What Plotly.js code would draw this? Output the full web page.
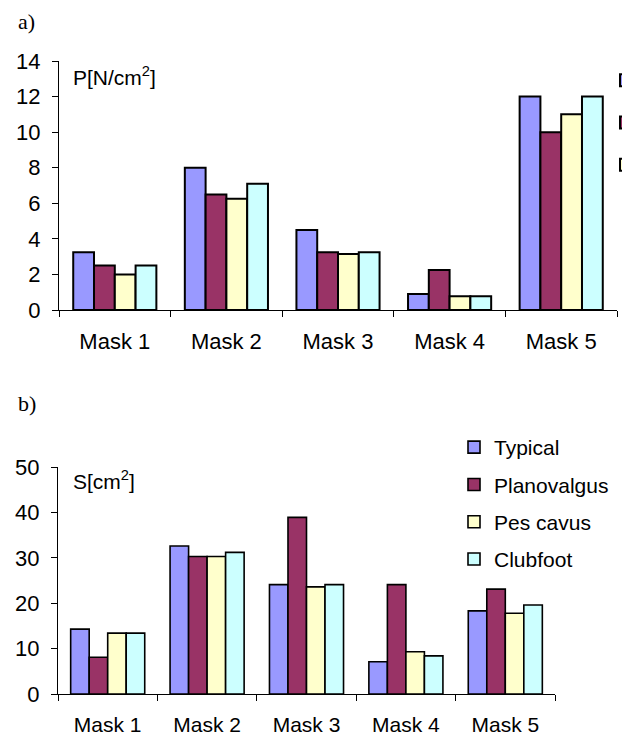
<!DOCTYPE html>
<html>
<head>
<meta charset="utf-8">
<script src="https://cdn.plot.ly/plotly-3.0.1.min.js"></script>
<style>html,body{margin:0;padding:0;background:#fff;}#chart{width:622px;height:736px;}</style>
</head>
<body>
<div id="chart"></div>
<script>
const categories = ["Mask 1", "Mask 2", "Mask 3", "Mask 4", "Mask 5"];
const seriesNames = ["Typical", "Planovalgus", "Pes cavus", "Clubfoot"];
const seriesColors = ["#9999FF", "#993366", "#FFFFCC", "#CCFFFF"];

// a) Pressure P [N/cm^2]
const pTypical     = [3.25, 8.0, 4.5, 0.9, 12.0];
const pPlanovalgus = [2.5, 6.5, 3.25, 2.25, 10.0];
const pPesCavus    = [2.0, 6.25, 3.15, 0.77, 11.0];
const pClubfoot    = [2.5, 7.1, 3.25, 0.77, 12.0];

// b) Area S [cm^2]
const sTypical     = [14.3, 32.6, 24.1, 7.1, 18.3];
const sPlanovalgus = [8.1, 30.3, 38.9, 24.1, 23.1];
const sPesCavus    = [13.4, 30.3, 23.6, 9.3, 17.8];
const sClubfoot    = [13.4, 31.2, 24.1, 8.4, 19.6];

const pSeries = [pTypical, pPlanovalgus, pPesCavus, pClubfoot];
const sSeries = [sTypical, sPlanovalgus, sPesCavus, sClubfoot];

const traces = [];
// top chart: its legend is cut off at the right edge of the picture,
// only the left edges of three legend keys are visible
pSeries.forEach((vals, i) => {
  traces.push({
    type: "bar", x: categories, y: vals, name: " ",
    xaxis: "x", yaxis: "y",
    marker: {color: seriesColors[i], line: {color: "#000", width: 2}},
    legend: "legend2", legendgroup: "t" + i, showlegend: i < 3,
    hoverinfo: "skip"
  });
});
sSeries.forEach((vals, i) => {
  traces.push({
    type: "bar", x: categories, y: vals, name: seriesNames[i],
    xaxis: "x2", yaxis: "y2",
    marker: {color: seriesColors[i], line: {color: "#000", width: 1.6}},
    legend: "legend", legendgroup: "b" + i, showlegend: true,
    hoverinfo: "skip"
  });
});

const W = 622, H = 736;
const fx = px => px / W;
const fy = py => 1 - py / H;
const fam = "Liberation Sans, Arial, sans-serif";
const fontTop = {family: fam, size: 22, color: "#000"};
const fontBot = {family: fam, size: 21, color: "#000"};
const serif = {family: "Liberation Serif, Times New Roman, serif", size: 22, color: "#000"};

const xCommon = {
  type: "category", tickson: "boundaries", ticks: "outside", ticklen: 6,
  tickcolor: "#000", showline: true, linecolor: "#000", linewidth: 1,
  showgrid: false, zeroline: false, fixedrange: true
};
const yCommon = {
  ticks: "outside", ticklen: 6, tickcolor: "#000", showline: true,
  linecolor: "#000", linewidth: 1, showgrid: false, zeroline: false,
  fixedrange: true, ticklabelstandoff: 7
};

const layout = {
  width: W, height: H,
  margin: {l: 0, r: 0, t: 0, b: 0, autoexpand: false},
  paper_bgcolor: "#fff", plot_bgcolor: "#fff",
  barmode: "group", bargap: 0.255, bargroupgap: 0,
  font: fontTop,
  showlegend: true,
  xaxis: Object.assign({}, xCommon, {domain: [fx(59), fx(617)], anchor: "y", tickfont: fontTop, ticklabelstandoff: 12}),
  yaxis: Object.assign({}, yCommon, {domain: [fy(310), fy(61)], range: [0, 14], dtick: 2, anchor: "x", tickfont: fontTop}),
  xaxis2: Object.assign({}, xCommon, {domain: [fx(58), fx(555)], anchor: "y2", tickfont: fontBot, ticklabelstandoff: 12}),
  yaxis2: Object.assign({}, yCommon, {domain: [fy(694), fy(467)], range: [0, 50], dtick: 10, anchor: "x2", tickfont: fontTop}),
  legend: {
    x: fx(454), y: fy(427), xanchor: "left", yanchor: "top",
    font: fontBot, bgcolor: "rgba(0,0,0,0)", borderwidth: 0,
    traceorder: "grouped", tracegroupgap: 7, itemclick: false, itemdoubleclick: false
  },
  legend2: {
    x: fx(606), y: fy(60), xanchor: "left", yanchor: "top",
    font: fontBot, bgcolor: "rgba(0,0,0,0)", borderwidth: 0,
    traceorder: "grouped", tracegroupgap: 12, itemclick: false, itemdoubleclick: false
  },
  annotations: [
    {text: "a)", xref: "paper", yref: "paper", x: fx(16), y: fy(22), xanchor: "left", yanchor: "middle",
     showarrow: false, font: serif},
    {text: "b)", xref: "paper", yref: "paper", x: fx(16), y: fy(403), xanchor: "left", yanchor: "middle",
     showarrow: false, font: serif},
    {text: "P[N/cm<sup>2</sup>]", xref: "paper", yref: "paper", x: fx(71), y: fy(76), xanchor: "left", yanchor: "middle",
     showarrow: false, font: {family: fam, size: 21, color: "#000"}},
    {text: "S[cm<sup>2</sup>]", xref: "paper", yref: "paper", x: fx(71), y: fy(480), xanchor: "left", yanchor: "middle",
     showarrow: false, font: {family: fam, size: 21, color: "#000"}}
  ]
};

Plotly.newPlot("chart", traces, layout, {displayModeBar: false, staticPlot: true});
</script>
</body>
</html>
